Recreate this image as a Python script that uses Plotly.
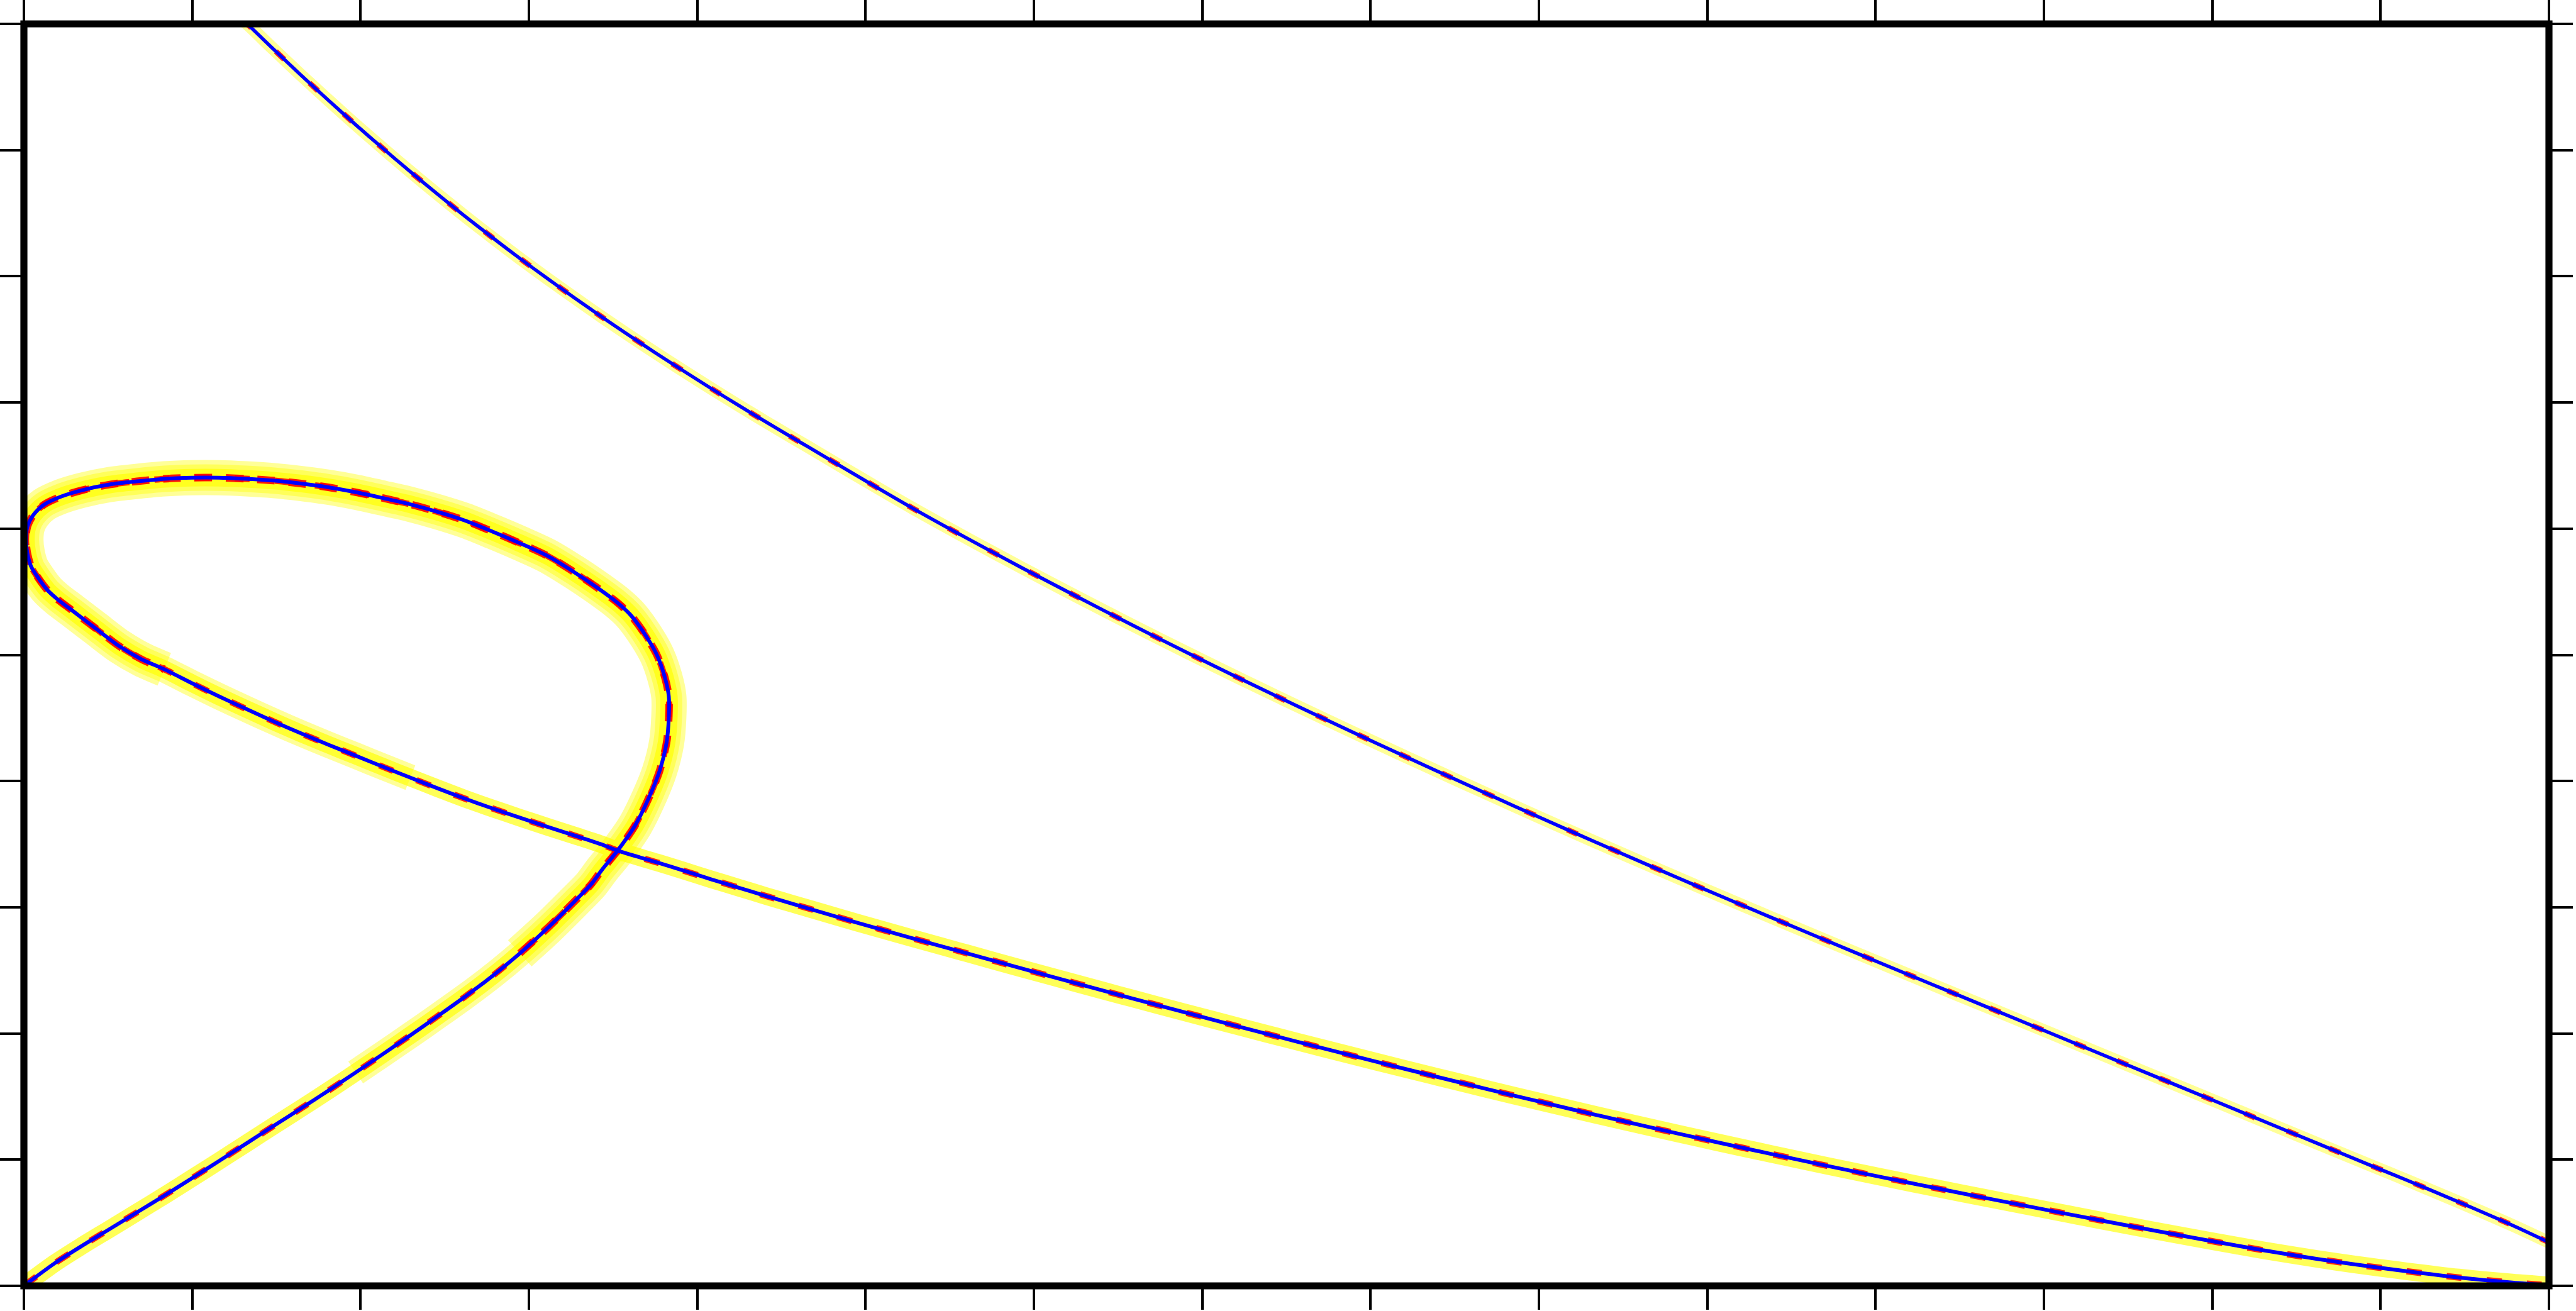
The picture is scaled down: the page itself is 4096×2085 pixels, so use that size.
import plotly.graph_objects as go

# Curve 1: nodal loop (from lower-left corner, up around the loop, then down to lower-right corner)
c1_x = [0.0, 0.184, 0.346, 0.509, 0.671, 0.834, 0.996, 1.159, 1.321, 1.484, 1.646, 1.809, 1.971,
        2.134, 2.296, 2.459, 2.621, 2.784, 2.946, 3.109, 3.272, 3.369, 3.434, 3.525, 3.629, 3.710,
        3.775, 3.818, 3.831, 3.831, 3.808, 3.760, 3.678, 3.600, 3.520, 3.401, 3.272, 3.109, 2.946,
        2.784, 2.621, 2.459, 2.296, 2.134, 1.971, 1.809, 1.646, 1.484, 1.321, 1.159, 0.996, 0.834,
        0.671, 0.509, 0.346, 0.216, 0.119, 0.054, 0.021, 0.012, 0.020, 0.043, 0.085, 0.142, 0.200,
        0.284, 0.426, 0.567, 0.700, 0.834, 0.996, 1.159, 1.321, 1.484, 1.646, 1.809, 1.971, 2.134,
        2.296, 2.459, 2.621, 2.784, 2.946, 3.109, 3.272, 3.434, 3.525, 3.759, 3.922, 4.084, 4.247,
        4.409, 4.572, 4.734, 4.955, 5.280, 5.605, 5.930, 6.255, 6.580, 6.905, 7.230, 7.555, 7.880,
        8.205, 8.530, 8.855, 9.180, 9.505, 9.831, 10.052, 10.373, 10.698, 11.023, 11.348, 11.674,
        11.999, 12.324, 12.649, 12.974, 13.299, 13.624, 13.830, 14.147, 14.465, 14.783, 15.0]
c1_y = [0.0, 0.180, 0.318, 0.450, 0.582, 0.715, 0.851, 0.989, 1.128, 1.268, 1.406, 1.547, 1.691,
        1.838, 1.986, 2.138, 2.292, 2.456, 2.635, 2.833, 3.048, 3.181, 3.297, 3.446, 3.644, 3.860,
        4.075, 4.306, 4.505, 4.671, 4.820, 5.000, 5.185, 5.322, 5.420, 5.537, 5.653, 5.785, 5.885,
        5.977, 6.064, 6.133, 6.193, 6.242, 6.289, 6.328, 6.358, 6.381, 6.395, 6.404, 6.404, 6.395,
        6.375, 6.350, 6.305, 6.252, 6.190, 6.105, 6.017, 5.918, 5.810, 5.700, 5.610, 5.510, 5.440,
        5.355, 5.210, 5.068, 4.964, 4.886, 4.777, 4.671, 4.571, 4.472, 4.378, 4.288, 4.201, 4.113,
        4.027, 3.942, 3.860, 3.783, 3.710, 3.638, 3.568, 3.497, 3.450, 3.356, 3.289, 3.221, 3.155,
        3.089, 3.025, 2.962, 2.876, 2.754, 2.634, 2.514, 2.396, 2.279, 2.164, 2.050, 1.938, 1.828,
        1.719, 1.612, 1.507, 1.404, 1.304, 1.205, 1.140, 1.047, 0.955, 0.865, 0.777, 0.691,
        0.606, 0.522, 0.440, 0.360, 0.283, 0.213, 0.173, 0.117, 0.066, 0.026, 0.004]

# Curve 2: upper branch from top edge down to right edge
c2_x = [1.300, 1.338, 1.484, 1.646, 1.809, 1.971, 2.134, 2.296, 2.459, 2.621, 2.784, 2.946, 3.109,
        3.272, 3.434, 3.597, 3.759, 3.922, 4.084, 4.247, 4.409, 4.572, 4.734, 4.955, 5.280, 5.605,
        5.930, 6.255, 6.580, 6.920, 7.230, 7.555, 7.880, 8.205, 8.530, 8.855, 9.180, 9.505, 9.831,
        10.052, 10.373, 10.698, 11.023, 11.348, 11.674, 11.999, 12.324, 12.649, 12.974, 13.299,
        13.624, 13.949, 14.147, 14.465, 14.783, 15.0]
c2_y = [10.03, 9.985, 9.798, 9.594, 9.395, 9.201, 9.012, 8.828, 8.649, 8.475, 8.306, 8.142, 7.983,
        7.828, 7.677, 7.530, 7.387, 7.247, 7.110, 6.976, 6.845, 6.716, 6.589, 6.414, 6.162, 5.922,
        5.689, 5.462, 5.239, 5.011, 4.808, 4.600, 4.396, 4.195, 3.997, 3.801, 3.608, 3.418, 3.230,
        3.104, 2.923, 2.742, 2.561, 2.382, 2.203, 2.024, 1.845, 1.666, 1.487, 1.308,
        1.129, 0.950, 0.842, 0.664, 0.480, 0.345]

x_ticks = list(range(0, 16))
y_ticks = list(range(0, 11))


def part(cond_start, cond_end):
    i0 = next(i for i in range(len(c1_x)) if cond_start(i))
    i1 = next(i for i in range(len(c1_x)) if cond_end(i))
    return c1_x[i0:i1 + 1], c1_y[i0:i1 + 1]

# portions of curve 1 where the scatter is widest (around the loop)
loop_x, loop_y = part(lambda i: c1_y[i] > 2.6, lambda i: i > 60 and c1_x[i] > 0.7)
wide_x, wide_y = part(lambda i: c1_y[i] > 1.6, lambda i: i > 60 and c1_x[i] > 2.2)

fig = go.Figure()

def band(x, y, color, width, opacity, dash="solid"):
    fig.add_trace(go.Scatter(x=x, y=y, mode="lines",
                             line=dict(color=color, width=width, shape="spline", smoothing=0.8,
                                       dash=dash),
                             opacity=opacity, hoverinfo="skip", showlegend=False))

# yellow scatter halo (approximated as translucent bands)
band(loop_x, loop_y, "#FFFF00", 56, 0.40)
band(wide_x, wide_y, "#FFFF00", 42, 0.40)
band(c1_x, c1_y, "#FFFF00", 28, 0.65)
band(c2_x, c2_y, "#FFFF00", 20, 0.40)
# red points (clumps along the curves)
band(loop_x, loop_y, "#FF0000", 12, 0.9, dash="28px,22px")
band(c1_x, c1_y, "#FF0000", 10, 0.85, dash="24px,40px")
band(c2_x, c2_y, "#FF0000", 9, 0.8, dash="18px,55px")
# blue smooth curves
band(c1_x, c1_y, "#0000FF", 6, 1.0)
band(c2_x, c2_y, "#0000FF", 5.5, 1.0)

axis_common = dict(showline=False, mirror="ticks", automargin=False,
                   ticks="outside", ticklen=37.2, tickwidth=3.8, tickcolor="black",
                   showticklabels=False, showgrid=False, zeroline=False, fixedrange=True)

fig.update_layout(
    width=4096, height=2085, autosize=False,
    paper_bgcolor="white", plot_bgcolor="white",
    margin=dict(l=37.8, r=42.8, t=37.8, b=39.6, pad=0, autoexpand=False),
    xaxis=dict(range=[0, 15], tickvals=x_ticks, **axis_common),
    yaxis=dict(range=[0, 10], tickvals=y_ticks, **axis_common),
    shapes=[dict(type="rect", xref="paper", yref="paper", x0=0, y0=0, x1=1, y1=1,
                 line=dict(color="black", width=11.2), fillcolor="rgba(0,0,0,0)", layer="above")],
    showlegend=False,
)

fig.write_html("out.html", config={"displayModeBar": False},
               post_script="document.body.style.margin='0px';document.body.style.overflow='hidden';")
